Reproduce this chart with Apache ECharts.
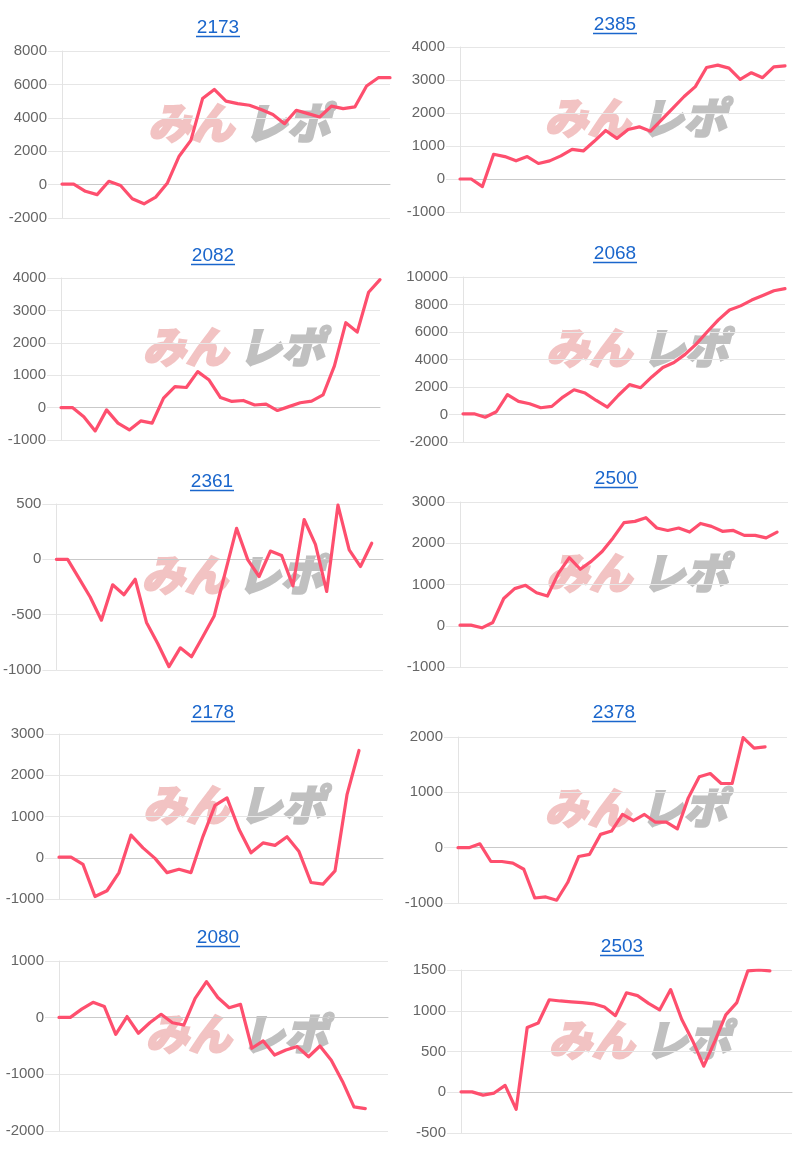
<!DOCTYPE html>
<html>
<head>
<meta charset="utf-8">
<script src="https://cdn.jsdelivr.net/npm/echarts@6/dist/echarts.min.js"></script>
<style>
html,body{margin:0;padding:0;background:#ffffff;}
#chart{width:800px;height:1151px;}
</style>
</head>
<body>
<div id="chart"></div>
<script>
// ---- data ----
const titles = ['2173', '2385', '2082', '2068', '2361', '2500', '2178', '2378', '2080', '2503'];
const days = ['1','2','3','4','5','6','7','8','9','10','11','12','13','14','15','16','17','18','19','20','21','22','23','24','25','26','27','28','29','30','31'];
const catCounts = [29, 30, 29, 30, 30, 31, 28, 31, 30, 31];

const s2173 = [30, 30, -400, -600, 200, -50, -850, -1150, -750, 100, 1700, 2650, 5150, 5700, 5000, 4850, 4750, 4500, 4200, 3650, 4450, 4250, 4050, 4700, 4550, 4650, 5900, 6400, 6400];
const s2385 = [0, 0, -230, 750, 680, 550, 680, 470, 550, 700, 900, 850, 1150, 1470, 1230, 1500, 1580, 1450, 1800, 2150, 2500, 2800, 3380, 3450, 3360, 3020, 3220, 3070, 3400, 3430];
const s2082 = [0, 0, -280, -720, -70, -480, -690, -410, -480, 290, 650, 620, 1110, 850, 310, 190, 220, 80, 110, -90, 30, 150, 200, 390, 1290, 2620, 2330, 3560, 3950];
const s2068 = [50, 50, -200, 200, 1450, 950, 780, 490, 590, 1270, 1800, 1560, 1020, 540, 1400, 2170, 1950, 2730, 3420, 3780, 4370, 5120, 6020, 6880, 7600, 7900, 8320, 8650, 9000, 9150];
const s2361 = [0, 0, -170, -340, -550, -230, -320, -180, -570, -760, -970, -800, -880, -700, -515, -115, 280, -5, -155, 75, 35, -240, 360, 135, -290, 490, 85, -65, 145];
const s2500 = [15, 15, -50, 80, 660, 900, 980, 800, 720, 1270, 1650, 1370, 1560, 1800, 2130, 2500, 2530, 2620, 2370, 2310, 2370, 2270, 2480, 2410, 2290, 2310, 2190, 2190, 2130, 2270];
const s2178 = [15, 15, -160, -940, -800, -360, 550, 240, -15, -360, -280, -360, 520, 1270, 1450, 690, 120, 360, 300, 510, 150, -600, -640, -320, 1530, 2600];
const s2378 = [0, 0, 70, -250, -250, -280, -390, -910, -890, -950, -630, -160, -120, 240, 300, 600, 490, 600, 460, 460, 340, 900, 1280, 1340, 1160, 1160, 1990, 1800, 1820];
const s2080 = [5, 5, 150, 270, 195, -295, 20, -275, -90, 60, -90, -130, 340, 635, 355, 175, 235, -540, -410, -660, -570, -510, -690, -500, -750, -1130, -1575, -1605];
const s2503 = [5, 5, -35, -10, 85, -210, 795, 850, 1135, 1120, 1110, 1100, 1085, 1045, 940, 1220, 1185, 1090, 1010, 1260, 895, 630, 320, 625, 950, 1100, 1490, 1500, 1490];
const seriesData = [s2173, s2385, s2082, s2068, s2361, s2500, s2178, s2378, s2080, s2503];

const yMin  = [-2000, -1000, -1000, -2000, -1000, -1000, -1000, -1000, -2000, -500];
const yMax  = [8000, 4000, 4000, 10000, 500, 3000, 3000, 2000, 1000, 1500];
const yStep = [2000, 1000, 1000, 2000, 500, 1000, 1000, 1000, 1000, 500];

// ---- layout ----
const gridBoxes = [
  [62, 51, 328, 167], [460, 47, 325, 165],
  [61, 278, 319, 162], [463, 277, 322, 165],
  [56, 504, 327, 166], [460, 502, 328, 165],
  [59, 734, 324, 165], [458, 737, 329, 166],
  [59, 961, 329, 170], [461, 970, 331, 163]
];
const titleCenters = [
  [218, 28], [615, 25],
  [213, 256], [615, 254],
  [212, 482], [616, 479],
  [213, 713], [614, 713],
  [218, 938], [622, 947]
];

const FONT = '"Liberation Sans", Arial, Helvetica, sans-serif';
const TITLE_COLOR = '#1a66cc';
const LINE_COLOR = '#fe4f6e';
const WM_FONT = '"Noto Sans CJK JP", sans-serif';

const chart = echarts.init(document.getElementById('chart'), null, {renderer: 'canvas'});

const option = {
  backgroundColor: '#ffffff',
  animation: false,
  title: [], grid: [], xAxis: [], yAxis: [], series: [], graphic: []
};

for (let i = 0; i < titles.length; i++) {
  const [gl, gt, gw, gh] = gridBoxes[i];
  const [tx, ty] = titleCenters[i];
  option.title.push({
    text: titles[i],
    left: tx, top: ty - 10,
    textAlign: 'center',
    padding: 0,
    textStyle: {color: TITLE_COLOR, fontSize: 19, fontWeight: 'normal', fontFamily: FONT, lineHeight: 20}
  });
  option.graphic.push({
    type: 'line', z: 10,
    shape: {x1: tx - 22, y1: ty + 8.5, x2: tx + 22, y2: ty + 8.5},
    style: {stroke: TITLE_COLOR, lineWidth: 1.4}
  });
  // watermark
  option.graphic.push({
    type: 'text', z: -10, silent: true,
    style: {
      x: gl + gw / 2 + 13, y: gh / 2 + gt - 12,
      text: '{a|みん}{b|レポ}',
      align: 'center', verticalAlign: 'middle',
      rich: {
        a: {fontSize: 43, fontWeight: 900, fontStyle: 'italic', fontFamily: WM_FONT, fill: '#f2c3c3', stroke: '#f2c3c3', lineWidth: 2, padding: [0, 10, 0, 0]},
        b: {fontSize: 43, fontWeight: 900, fontStyle: 'italic', fontFamily: WM_FONT, fill: '#c0c0c0', stroke: '#c0c0c0', lineWidth: 2}
      }
    }
  });
  option.grid.push({left: gl, top: gt, width: gw, height: gh, containLabel: false});
  option.xAxis.push({
    type: 'category', gridIndex: i, boundaryGap: false,
    data: days.slice(0, catCounts[i]),
    axisLabel: {show: false}, axisTick: {show: false},
    axisLine: {show: true, onZero: true, lineStyle: {color: '#c9c9c9', width: 1}},
    splitLine: {show: false}
  });
  option.yAxis.push({
    type: 'value', gridIndex: i,
    min: yMin[i], max: yMax[i], interval: yStep[i],
    axisLine: {show: true, lineStyle: {color: '#e3e3e3', width: 1}},
    axisTick: {show: true, length: 14, lineStyle: {color: '#e6e6e6'}},
    axisLabel: {color: '#666666', fontSize: 15, fontFamily: FONT, margin: 15, formatter: function (v) { return String(v); }},
    splitLine: {show: true, lineStyle: {color: '#e6e6e6', width: 1}}
  });
  option.series.push({
    type: 'line', xAxisIndex: i, yAxisIndex: i,
    data: seriesData[i],
    showSymbol: false, symbol: 'none', smooth: false, z: 5,
    lineStyle: {color: LINE_COLOR, width: 3.2, cap: 'round', join: 'round'}
  });
}

chart.setOption(option);
</script>
</body>
</html>
